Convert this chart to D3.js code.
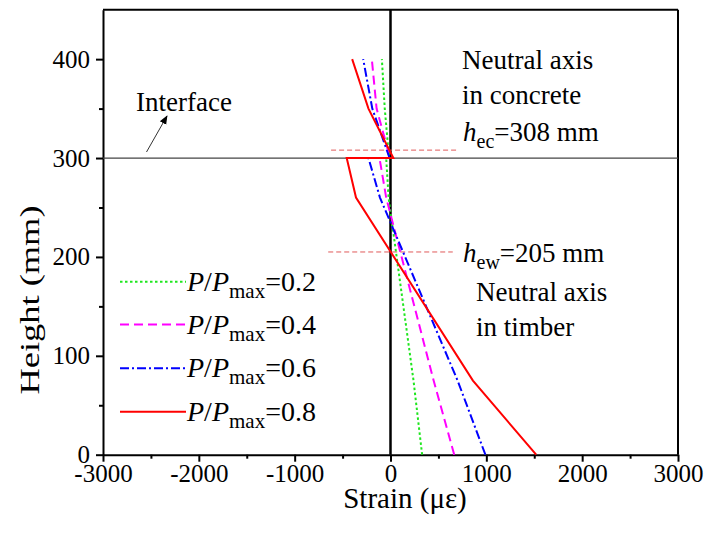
<!DOCTYPE html>
<html>
<head>
<meta charset="utf-8">
<script src="https://cdn.jsdelivr.net/npm/d3@7"></script>
<style>
  body { margin: 0; background: #fff; }
  svg text { font-family: "Liberation Serif", "Times New Roman", serif; fill: #000; }
</style>
</head>
<body>
<svg id="chart" width="710" height="533"></svg>
<script>
// heights of the gauges (mm), timber part then concrete part
const timberHeights = [0, 75, 260, 300];
const concreteHeights = [300, 350, 400];

// strain readings (με) at those heights
const timber02 = [330, 240, -20, -45];
const timber04 = [665, 450, -45, -115];
const timber06 = [990, 700, -110, -230];
const timber08 = [1520, 860, -360, -457];
const concrete02 = [-15, -60, -90];
const concrete04 = [-5, -145, -195];
const concrete06 = [-10, -190, -285];
const concrete08 = [30, -230, -400];

const loadLevels = ["0.2", "0.4", "0.6", "0.8"];
const xTicks = [-3000, -2000, -1000, 0, 1000, 2000, 3000];
const yTicks = [0, 100, 200, 300, 400];

const interfaceHeight = 300;
const hEc = 308;
const hEw = 205;

function buildSeries(timber, concrete) {
    const pts = timberHeights.map((h, i) => ({ s: timber[i], h: h }));
    concrete.forEach((s, i) => pts.push({ s: s, h: concreteHeights[i] }));
    return pts;
}

const series = [
    { level: loadLevels[0], pts: buildSeries(timber02, concrete02), color: "#1ee61e", dash: "2.5,2.5" },
    { level: loadLevels[1], pts: buildSeries(timber04, concrete04), color: "#ff00ff", dash: "9,5" },
    { level: loadLevels[2], pts: buildSeries(timber06, concrete06), color: "#0000ff", dash: "9,3,2,3" },
    { level: loadLevels[3], pts: buildSeries(timber08, concrete08), color: "#ff0000", dash: null }
];

const serif = '"Liberation Serif", "Times New Roman", serif';

function drawChart(svgId) {
    const svg = d3.select(`#${svgId}`);
    const left = 103, right = 678, top = 9.7, bottom = 454.7;

    const x = d3.scaleLinear().domain([-3000, 3000]).range([left, right]);
    const y = d3.scaleLinear().domain([0, 450]).range([bottom, top]);

    // minor ticks
    const xMinor = d3.range(-2500, 3000, 1000);
    const yMinor = d3.range(50, 450, 100);

    svg.append('g')
        .attr('transform', `translate(0,${bottom})`)
        .call(d3.axisBottom(x).tickValues(xMinor).tickSize(4).tickFormat(''))
        .call(g => g.select('.domain').remove())
        .selectAll('line').attr('stroke-width', 2);

    svg.append('g')
        .attr('transform', `translate(${left},0)`)
        .call(d3.axisLeft(y).tickValues(yMinor).tickSize(4).tickFormat(''))
        .call(g => g.select('.domain').remove())
        .selectAll('line').attr('stroke-width', 2);

    const xAxis = svg.append('g')
        .attr('transform', `translate(0,${bottom})`)
        .attr('font-family', serif)
        .call(d3.axisBottom(x).tickValues(xTicks).tickSize(7).tickPadding(3)
            .tickSizeOuter(0).tickFormat(d => String(d)));
    xAxis.select('.domain').attr('stroke-width', 2);
    xAxis.selectAll('.tick line').attr('stroke-width', 2);
    xAxis.selectAll('text').style('font-size', '25px').style('font-family', serif);

    const yAxis = svg.append('g')
        .attr('transform', `translate(${left},0)`)
        .attr('font-family', serif)
        .call(d3.axisLeft(y).tickValues(yTicks).tickSize(7).tickPadding(6)
            .tickSizeOuter(0).tickFormat(d => String(d)));
    yAxis.select('.domain').attr('stroke-width', 2);
    yAxis.selectAll('.tick line').attr('stroke-width', 2);
    yAxis.selectAll('text').style('font-size', '25px').style('font-family', serif);

    // box top and right
    svg.append('line').attr('x1', left).attr('x2', right).attr('y1', top).attr('y2', top)
        .attr('stroke', '#000').attr('stroke-width', 2);
    svg.append('line').attr('x1', right).attr('x2', right).attr('y1', top).attr('y2', bottom)
        .attr('stroke', '#000').attr('stroke-width', 2);

    // interface line and zero strain line
    svg.append('line')
        .attr('x1', left).attr('x2', right)
        .attr('y1', y(interfaceHeight)).attr('y2', y(interfaceHeight))
        .attr('stroke', '#444').attr('stroke-width', 1.2);
    svg.append('line')
        .attr('x1', x(0)).attr('x2', x(0)).attr('y1', top).attr('y2', bottom)
        .attr('stroke', '#000').attr('stroke-width', 2.5);

    // neutral axis markers
    svg.append('line')
        .attr('x1', x(-620)).attr('x2', x(690))
        .attr('y1', y(hEc)).attr('y2', y(hEc))
        .attr('stroke', '#e05a5a').attr('stroke-width', 1).attr('stroke-dasharray', '5,3');
    svg.append('line')
        .attr('x1', x(-650)).attr('x2', x(650))
        .attr('y1', y(hEw)).attr('y2', y(hEw))
        .attr('stroke', '#e05a5a').attr('stroke-width', 1).attr('stroke-dasharray', '5,3');

    const line = d3.line().x(d => x(d.s)).y(d => y(d.h));

    series.forEach(sr => {
        svg.append('path')
            .datum(sr.pts)
            .attr('d', line)
            .attr('fill', 'none')
            .attr('stroke', sr.color)
            .attr('stroke-width', 2)
            .attr('stroke-dasharray', sr.dash);
    });

    // legend
    const legendY = [281.7, 324.5, 368.3, 411.7];
    series.forEach((sr, i) => {
        svg.append('line')
            .attr('x1', 120).attr('x2', 186)
            .attr('y1', legendY[i]).attr('y2', legendY[i])
            .attr('stroke', sr.color).attr('stroke-width', 2)
            .attr('stroke-dasharray', sr.dash);
        const t = svg.append('text')
            .attr('x', 187).attr('y', legendY[i] + 9)
            .style('font-size', '28px');
        t.append('tspan').style('font-style', 'italic').text('P');
        t.append('tspan').text('/');
        t.append('tspan').style('font-style', 'italic').text('P');
        t.append('tspan').attr('dy', 7).style('font-size', '21px').text('max');
        t.append('tspan').attr('dy', -7).text('=' + sr.level);
    });

    // interface annotation
    svg.append('defs').append('marker')
        .attr('id', 'arrow')
        .attr('viewBox', '0 0 10 10')
        .attr('refX', 9).attr('refY', 5)
        .attr('markerWidth', 9).attr('markerHeight', 9)
        .attr('markerUnits', 'userSpaceOnUse')
        .attr('orient', 'auto')
        .append('path').attr('d', 'M0,1 L10,5 L0,9 Z').attr('fill', '#000');
    svg.append('line')
        .attr('x1', 146.5).attr('y1', 152)
        .attr('x2', 167).attr('y2', 116)
        .attr('stroke', '#333').attr('stroke-width', 1)
        .attr('marker-end', 'url(#arrow)');
    svg.append('text').attr('x', 136).attr('y', 111).style('font-size', '27px').text('Interface');

    // neutral axis texts
    svg.append('text').attr('x', 462).attr('y', 69).style('font-size', '27px').text('Neutral axis');
    svg.append('text').attr('x', 462).attr('y', 104).style('font-size', '27px').text('in concrete');
    const ec = svg.append('text').attr('x', 463).attr('y', 141).style('font-size', '27px');
    ec.append('tspan').style('font-style', 'italic').text('h');
    ec.append('tspan').attr('dy', 7).style('font-size', '20px').text('ec');
    ec.append('tspan').attr('dy', -7).text('=308 mm');

    const ew = svg.append('text').attr('x', 463).attr('y', 262).style('font-size', '27px');
    ew.append('tspan').style('font-style', 'italic').text('h');
    ew.append('tspan').attr('dy', 7).style('font-size', '20px').text('ew');
    ew.append('tspan').attr('dy', -7).text('=205 mm');
    svg.append('text').attr('x', 476).attr('y', 301).style('font-size', '27px').text('Neutral axis');
    svg.append('text').attr('x', 476).attr('y', 336).style('font-size', '27px').text('in timber');

    // axis titles
    svg.append('text')
        .attr('x', 405).attr('y', 508)
        .attr('text-anchor', 'middle')
        .style('font-size', '29px')
        .text('Strain (με)');
    svg.append('text')
        .attr('transform', `translate(39,300) rotate(-90) scale(1.3,1)`)
        .attr('text-anchor', 'middle')
        .style('font-size', '28px')
        .text('Height (mm)');
}

drawChart('chart');
</script>
</body>
</html>
